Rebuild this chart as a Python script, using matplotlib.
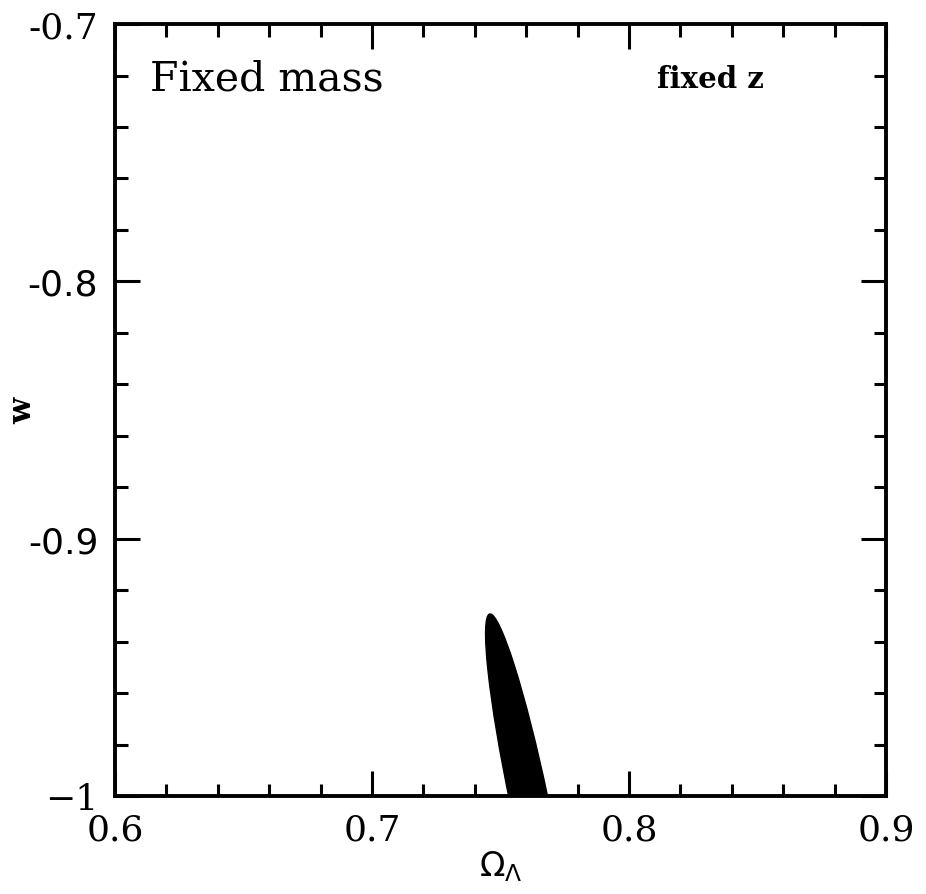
import matplotlib.pyplot as plt
import matplotlib
import numpy as np
from matplotlib.patches import Ellipse
from matplotlib.ticker import MultipleLocator

# datos del contorno (elipse de confianza)
centro = (0.7610, -1.0013)
semi_mayor = 0.0736
semi_menor = 0.0074
angulo = 101.9

xticks = [0.6, 0.7, 0.8, 0.9]
xlabels = ['0.6', '0.7', '0.8', '0.9']
yticks = [-1.0, -0.9, -0.8, -0.7]
ylabels = ['\u22121', '-0.9', '-0.8', '-0.7']

fig = plt.figure(figsize=(9.26, 8.95), dpi=100)
ax = fig.add_axes([0.1242, 0.1095, 0.8326, 0.8625])

elipse = Ellipse(centro, 2 * semi_mayor, 2 * semi_menor, angle=angulo,
                 facecolor='black', edgecolor='black')
ax.add_patch(elipse)

ax.set_xlim(0.6, 0.9)
ax.set_ylim(-1.0, -0.7)

ax.set_xticks(xticks)
ax.set_xticklabels(xlabels, family='DejaVu Serif', fontsize=26)
ax.set_yticks(yticks)
ax.set_yticklabels(ylabels, fontsize=26)
fuentes_y = ['DejaVu Serif', 'DejaVu Sans', 'DejaVu Sans', 'DejaVu Serif']
for lab, f in zip(ax.get_yticklabels(), fuentes_y):
    lab.set_family(f)

ax.xaxis.set_minor_locator(MultipleLocator(0.02))
ax.yaxis.set_minor_locator(MultipleLocator(0.02))
ax.tick_params(which='both', direction='in', top=True, right=True, width=2.2)
ax.tick_params(which='major', length=18, pad=12)
ax.tick_params(which='minor', length=9)
for s in ax.spines.values():
    s.set_linewidth(2.8)

ax.set_xlabel(r'$\Omega_\Lambda$', fontsize=24, labelpad=1)
ax.set_ylabel('w', fontsize=22, fontweight='bold', family='DejaVu Serif')
ax.yaxis.set_label_coords(-0.099, 0.5)

ax.text(0.045, 0.93, 'Fixed mass', transform=ax.transAxes, fontsize=29.5,
        family='DejaVu Serif', va='center', ha='left')
ax.text(0.703, 0.93, 'fixed z', transform=ax.transAxes, fontsize=21,
        family='DejaVu Serif', fontweight='bold', va='center', ha='left')

plt.savefig('out.png', dpi=100)
